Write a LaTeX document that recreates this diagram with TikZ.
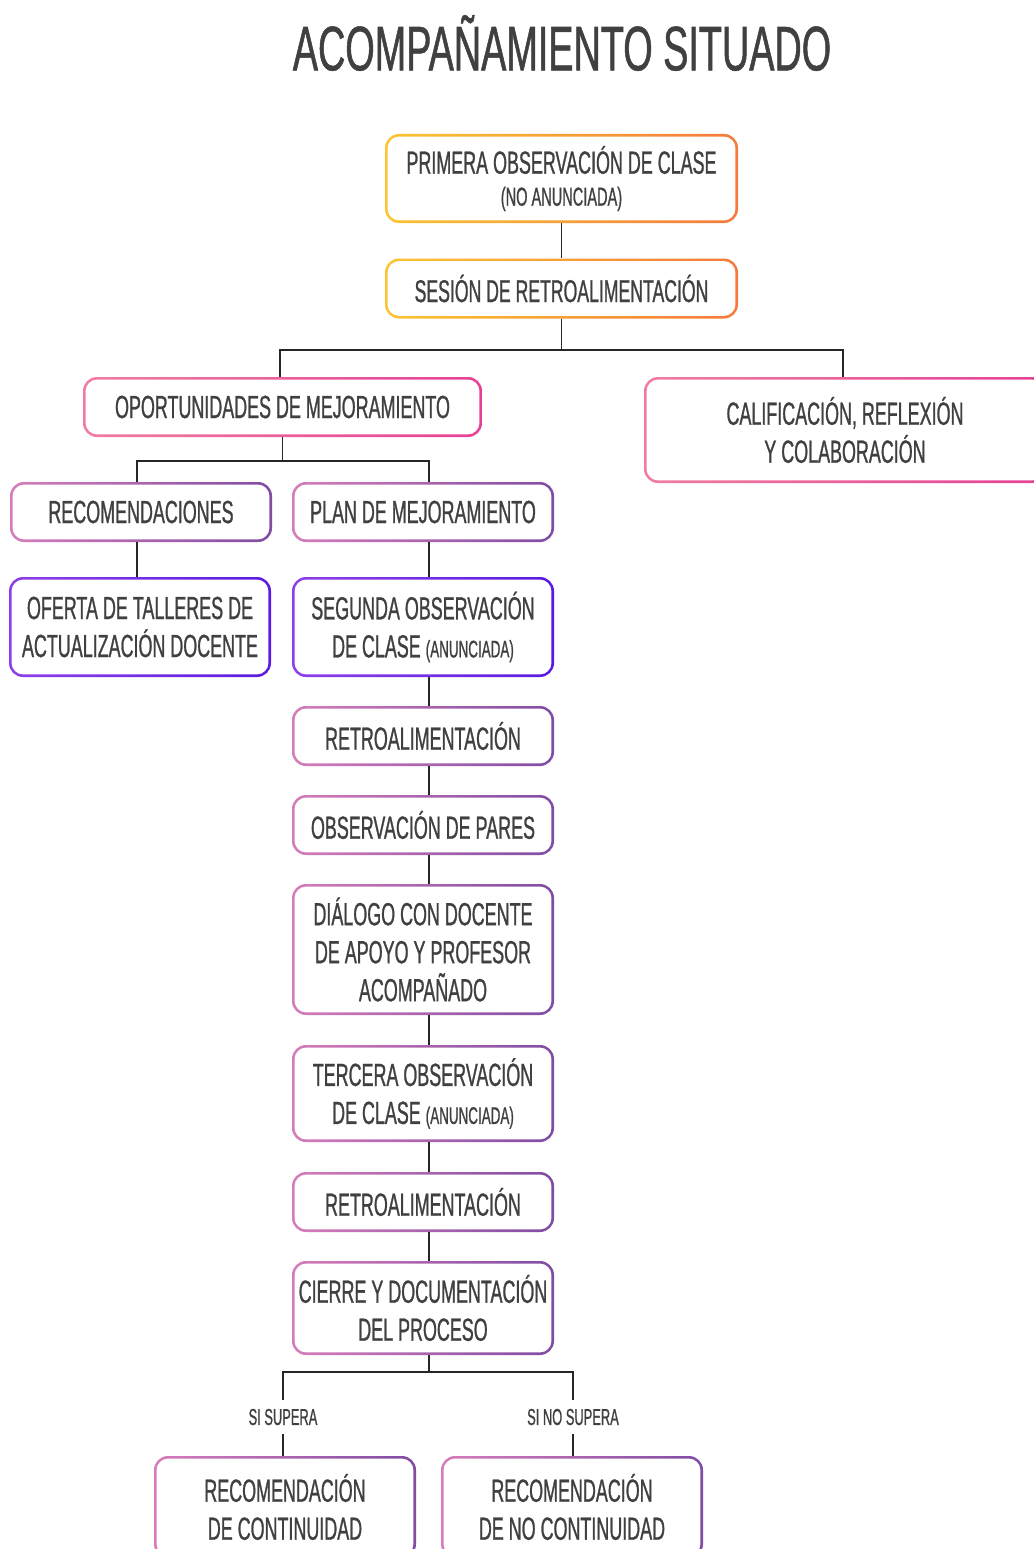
\documentclass[tikz,border=0pt]{standalone}
\usepackage{fontspec}
\usepackage{tikz}
\usetikzlibrary{positioning}
\newfontfamily\condfont{Liberation Sans}[FakeStretch=0.56, FakeBold=0.8]
\newfontfamily\titlefont{Liberation Sans}[FakeStretch=0.6, FakeBold=0.8]
\definecolor{textgray}{RGB}{64,64,64}
\definecolor{sunyellow}{RGB}{252,196,50}
\definecolor{sunorange}{RGB}{245,122,60}
\definecolor{rosepink}{RGB}{240,125,160}
\definecolor{hotpink}{RGB}{230,64,150}
\definecolor{lilac}{RGB}{214,124,186}
\definecolor{plum}{RGB}{128,76,164}
\definecolor{brightviolet}{RGB}{142,64,232}
\definecolor{deepindigo}{RGB}{92,26,224}
\newcommand{\smalltxt}{\fontsize{24}{26}\selectfont}

\begin{document}
\begin{tikzpicture}[x=1pt, y=-1pt]
        \tikzset{
            stepbox/.style 2 args={rectangle, rounded corners=14pt, left color=#1, right color=#2,
                minimum width=262pt, minimum height=60pt, inner sep=0pt, align=center, text=textgray,
                font=\condfont\fontsize{32}{38}\selectfont,
                path picture={\fill[white, rounded corners=11.5pt]
                    ([shift={(2.6pt,2.6pt)}]path picture bounding box.south west) rectangle
                    ([shift={(-2.6pt,-2.6pt)}]path picture bounding box.north east);}},
            link/.style={line width=1.8pt, draw=black!85},
            cond/.style={text=textgray, font=\condfont\fontsize{23}{26}\selectfont, inner sep=9pt}
        }
        \useasboundingbox[fill=white] (0,0) rectangle (1033,1549);

        \node (titulo) [text=textgray, font=\titlefont\fontsize{63}{70}\selectfont] at (562,43) {ACOMPAÑAMIENTO SITUADO};

        % first observation and feedback
        \node (primera) [stepbox={sunyellow}{sunorange}, minimum width=353pt, minimum height=89pt, font=\condfont\fontsize{32}{32}\selectfont] at (561.5,178.5) {PRIMERA OBSERVACIÓN DE CLASE\\{\fontsize{26}{30}\selectfont (NO ANUNCIADA)}};
        \node (sesion) [stepbox={sunyellow}{sunorange}, minimum width=353pt, font=\condfont\fontsize{31.5}{36}\selectfont] at (561.5,288.5) {SESIÓN DE RETROALIMENTACIÓN};

        \node (oport) [stepbox={rosepink}{hotpink}, minimum width=399pt] at (282.5,407) {OPORTUNIDADES DE MEJORAMIENTO};
        \node (calif) [stepbox={rosepink}{hotpink}, minimum width=402pt, minimum height=106pt] at (845,430) {CALIFICACIÓN, REFLEXIÓN\\Y COLABORACIÓN};

        \node (recom) [stepbox={lilac}{plum}] at (141,512) {RECOMENDACIONES};
        \node (plan) [stepbox={lilac}{plum}] at (423,512) {PLAN DE MEJORAMIENTO};
        \node (oferta) [stepbox={brightviolet}{deepindigo}, minimum height=100pt] at (140,627) {OFERTA DE TALLERES DE\\ACTUALIZACIÓN DOCENTE};
        \node (segunda) [stepbox={brightviolet}{deepindigo}, minimum height=100pt] at (423,627) {SEGUNDA OBSERVACIÓN\\DE CLASE {\smalltxt (ANUNCIADA)}};

        % the spine of the plan
        \node (retro) [stepbox={lilac}{plum}] at (423,736) {RETROALIMENTACIÓN};
        \node (pares) [stepbox={lilac}{plum}] at (423,825) {OBSERVACIÓN DE PARES};
        \node (dialogo) [stepbox={lilac}{plum}, minimum height=131pt] at (423,949.5) {DIÁLOGO CON DOCENTE\\DE APOYO Y PROFESOR\\ACOMPAÑADO};
        \node (tercera) [stepbox={lilac}{plum}, minimum height=97pt] at (423,1093.5) {TERCERA OBSERVACIÓN\\DE CLASE {\smalltxt (ANUNCIADA)}};
        \node (retrodos) [stepbox={lilac}{plum}] at (423,1202) {RETROALIMENTACIÓN};
        \node (cierre) [stepbox={lilac}{plum}, minimum height=94pt] at (423,1308) {CIERRE Y DOCUMENTACIÓN\\DEL PROCESO};

        \node (supera) [cond] at (283,1417) {SI SUPERA};
        \node (nosupera) [cond] at (573,1417) {SI NO SUPERA};
        \node (continua) [stepbox={lilac}{plum}, minimum height=102pt] at (285,1507) {RECOMENDACIÓN\\DE CONTINUIDAD};
        \node (nocontinua) [stepbox={lilac}{plum}, minimum height=102pt] at (572,1507) {RECOMENDACIÓN\\DE NO CONTINUIDAD};

        \coordinate (spine) at (429,0);

        \draw [link] (primera) -- (sesion);
        \draw [link] (sesion.south) -- ++(0,31) -| (oport.north -| 280,0);
        \draw [link] (sesion.south) -- ++(0,31) -| (calif.north -| 843,0);
        \draw [link] (oport.south) -- ++(0,24) -| (recom.north -| 137,0);
        \draw [link] (oport.south) -- ++(0,24) -| (plan.north -| spine);
        \draw [link] (recom.south -| 137,0) -- (oferta.north -| 137,0);
        \draw [link] (plan.south -| spine) -- (segunda.north -| spine);
        \draw [link] (segunda.south -| spine) -- (retro.north -| spine);
        \draw [link] (retro.south -| spine) -- (pares.north -| spine);
        \draw [link] (pares.south -| spine) -- (dialogo.north -| spine);
        \draw [link] (dialogo.south -| spine) -- (tercera.north -| spine);
        \draw [link] (tercera.south -| spine) -- (retrodos.north -| spine);
        \draw [link] (retrodos.south -| spine) -- (cierre.north -| spine);
        \draw [link] (cierre.south -| spine) -- ++(0,17) -| (supera.north);
        \draw [link] (cierre.south -| spine) -- ++(0,17) -| (nosupera.north);
        \draw [link] (supera.south) -- (supera.south |- continua.north);
        \draw [link] (nosupera.south) -- (nosupera.south |- nocontinua.north);
    \end{tikzpicture}
\end{document}
